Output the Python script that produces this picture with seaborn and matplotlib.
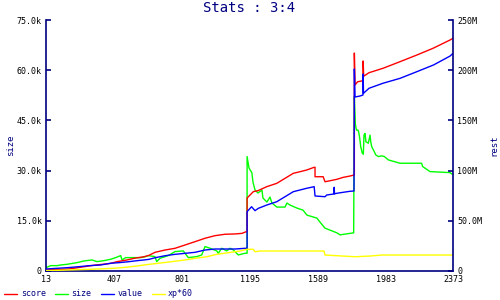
import matplotlib
matplotlib.use("Agg")
import matplotlib.pyplot as plt
import seaborn as sns
import pandas as pd

# ---------------- data ----------------
x_ticks = [13, 407, 801, 1195, 1589, 1983, 2373]
x_tick_labels = ["13", "407", "801", "1195", "1589", "1983", "2373"]

size_ticks = [0, 15, 30, 45, 60, 75]
size_tick_labels = ["0", "15.0k", "30.0k", "45.0k", "60.0k", "75.0k"]
rest_ticks = [0, 50, 100, 150, 200, 250]
rest_tick_labels = ["0", "50.0M", "100M", "150M", "200M", "250M"]

# score (millions, right axis)
score_x = [13, 146, 262, 303, 361, 390, 425, 483, 523, 581, 610, 645, 703, 761,
           819, 877, 935, 993, 1051, 1109, 1150, 1173, 1179, 1179, 1215, 1242,
           1293, 1351, 1399, 1447, 1486, 1525, 1568, 1573, 1573, 1620, 1631,
           1660, 1699, 1737, 1776, 1799, 1801, 1801, 1805, 1820, 1851, 1852,
           1855, 1886, 1967, 2066, 2163, 2257, 2356, 2373]
score_y = [1.0, 2.0, 5.0, 6.0, 7.0, 7.7, 9.3, 11.0, 12.6, 14.2, 15.6, 18.6, 20.9, 22.6,
           25.9, 29.2, 32.6, 35.2, 36.6, 36.9, 37.5, 39.1, 39.1, 72.7, 79.0, 80.0,
           84.0, 87.3, 92.3, 97.3, 98.9, 100.6, 103.3, 103.3, 93.9, 93.9, 88.9,
           89.9, 91.3, 93.3, 94.6, 95.6, 95.6, 217.1, 185.3, 188.5, 189.5, 209.2,
           194.0, 197.5, 201.9, 208.5, 215.1, 221.8, 230.1, 231.8]

# size (thousands, left axis)
size_x = [13, 40, 77, 98, 135, 193, 233, 280, 309, 349, 388, 417, 446, 454, 475,
          562, 591, 604, 645, 655, 674, 722, 761, 809, 838, 887, 916, 935, 964,
          1003, 1012, 1032, 1061, 1080, 1099, 1128, 1167, 1179, 1179, 1190, 1207,
          1213, 1225, 1242, 1265, 1271, 1294, 1312, 1323, 1352, 1399, 1410, 1428,
          1468, 1503, 1526, 1584, 1602, 1631, 1700, 1718, 1797, 1801, 1807, 1813,
          1822, 1826, 1832, 1838, 1847, 1853, 1857, 1863, 1868, 1882, 1892, 1896,
          1902, 1917, 1925, 1940, 1960, 1975, 1998, 2066, 2191, 2197, 2240, 2356,
          2366, 2373]
size_y = [1.0, 1.6, 1.6, 1.8, 2.0, 2.5, 3.0, 3.3, 2.8, 3.1, 3.5, 4.0, 4.6, 3.3, 4.0,
          4.0, 4.3, 4.6, 4.3, 2.8, 3.8, 4.6, 5.8, 6.0, 4.0, 4.3, 4.8, 7.3, 6.8,
          6.0, 5.3, 6.8, 6.0, 6.8, 6.3, 4.8, 5.3, 5.3, 34.2, 30.8, 29.3,
          26.6, 24.2, 23.3, 24.2, 21.8, 20.6, 22.1, 20.3, 19.1, 19.1, 20.3, 19.7,
          18.8, 18.2, 16.7, 15.8, 14.6, 12.8, 11.4, 10.8, 11.4, 52.1, 43.8, 42.1,
          42.1, 41.6, 39.7, 37.1, 35.2, 34.9, 40.6, 41.1, 38.6, 38.2, 40.6, 38.6,
          37.1, 35.6, 34.7, 34.2, 34.4, 34.2, 33.2, 32.2, 32.2, 31.2, 29.7, 29.4,
          29.0, 29.0]

# value (millions, right axis)
value_x = [13, 135, 204, 262, 330, 388, 436, 494, 542, 581, 610, 645, 703, 761,
           819, 877, 935, 993, 1109, 1167, 1179, 1179, 1205, 1225, 1244, 1293,
           1351, 1399, 1447, 1486, 1525, 1568, 1573, 1631, 1641, 1683, 1684, 1686,
           1699, 1737, 1776, 1799, 1801, 1805, 1834, 1851, 1852, 1854, 1886, 1967,
           2066, 2163, 2260, 2356, 2373]
value_y = [2.0, 3.3, 4.3, 5.3, 6.0, 7.7, 8.3, 9.3, 10.3, 11.0, 11.6, 13.2, 15.2, 16.6,
           17.6, 18.6, 20.9, 21.9, 21.9, 22.6, 22.6, 59.1, 64.0, 60.1, 62.4, 65.7,
           69.0, 74.0, 79.0, 80.7, 82.4, 84.0, 74.7, 74.0, 75.7, 76.7, 83.4, 76.9,
           77.4, 78.4, 79.4, 79.7, 201.2, 173.3, 174.3, 175.3, 196.2, 177.0, 182.0, 187.0,
           191.9, 198.5, 205.2, 214.1, 216.8]

# xp*60 (millions, right axis)
xp_x = [13, 272, 407, 475, 542, 581, 664, 742, 819, 877, 945, 1003, 1070, 1138,
        1176, 1215, 1225, 1254, 1625, 1631, 1805, 1892, 1960, 2373]
xp_y = [0.3, 1.7, 2.7, 3.7, 5.0, 6.0, 7.7, 9.3, 11.0, 12.6, 14.2, 16.6, 18.2, 19.9,
        21.6, 21.6, 19.2, 19.9, 19.9, 15.9, 14.2, 14.9, 15.9, 15.9]

# ---------------- style ----------------
NAVY = "#000080"
sns.set_style("white")
plt.rcParams["font.family"] = ["DejaVu Sans Mono", "DejaVu Sans"]

fig = plt.figure(figsize=(5, 3), dpi=100)
ax = fig.add_axes([46 / 500, 1 - 271 / 300, 407 / 500, 251 / 300])
ax2 = ax.twinx()

lw = 1.0
sns.lineplot(x=score_x, y=score_y, ax=ax2, color="#ff0000", lw=lw,
             estimator=None, sort=False, label="score")
sns.lineplot(x=size_x, y=size_y, ax=ax, color="#00ff00", lw=lw,
             estimator=None, sort=False, label="size")
sns.lineplot(x=value_x, y=value_y, ax=ax2, color="#0000ff", lw=lw,
             estimator=None, sort=False, label="value")
sns.lineplot(x=xp_x, y=xp_y, ax=ax2, color="#ffff00", lw=lw,
             estimator=None, sort=False, label="xp*60")

h1, l1 = ax.get_legend_handles_labels()
h2, l2 = ax2.get_legend_handles_labels()
for a in (ax, ax2):
    if a.get_legend() is not None:
        a.get_legend().remove()
hmap = dict(zip(l1 + l2, h1 + h2))
order = ["score", "size", "value", "xp*60"]

ax.set_xlim(13, 2373)
ax.set_ylim(0, 75)
ax2.set_ylim(0, 250)
ax.set_xticks(x_ticks)
ax.set_xticklabels(x_tick_labels)
ax.set_yticks(size_ticks)
ax.set_yticklabels(size_tick_labels)
ax2.set_yticks(rest_ticks)
ax2.set_yticklabels(rest_tick_labels)

for a in (ax, ax2):
    a.tick_params(axis="both", direction="in", length=3.6, width=1.2,
                  color=NAVY, labelsize=6, labelcolor="black", pad=3)
    for s in a.spines.values():
        s.set_visible(False)
    a.grid(False)
ax.spines["left"].set_visible(True)
ax.spines["bottom"].set_visible(True)
ax2.spines["right"].set_visible(True)
for s in (ax.spines["left"], ax.spines["bottom"], ax2.spines["right"]):
    s.set_color(NAVY)
    s.set_linewidth(1.2)
ax.set_facecolor("white")
ax2.patch.set_visible(False)

ax.set_xlabel("")
ax.set_ylabel("size", fontsize=6.5, color=NAVY)
ax.yaxis.set_label_coords(-0.077, 0.5)
ax2.set_ylabel("rest", fontsize=6.5, color=NAVY)
ax2.yaxis.set_label_coords(1.0885, 0.5)

fig.text(249 / 500, 1 - 8.5 / 300, "Stats : 3:4", ha="center", va="center",
         fontsize=10, color=NAVY)

fig.legend([hmap[k] for k in order], order, loc="center left",
           bbox_to_anchor=(4 / 500, 6 / 300), ncol=4, frameon=False,
           fontsize=6, labelcolor=NAVY, handlelength=1.6, handletextpad=0.4,
           columnspacing=1.1, borderpad=0, borderaxespad=0)

fig.savefig("out.png", dpi=100)
